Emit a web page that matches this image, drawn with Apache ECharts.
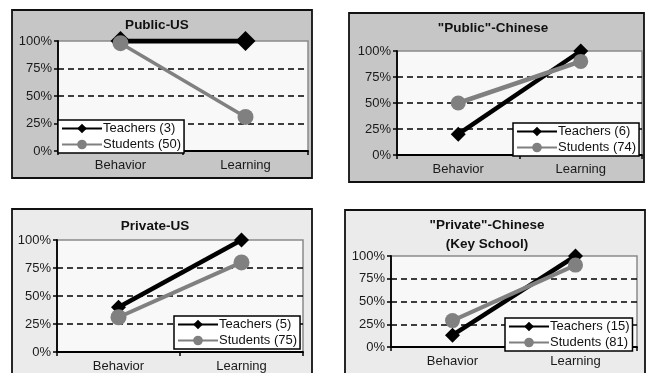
<!DOCTYPE html>
<html>
<head>
<meta charset="utf-8">
<script src="https://cdn.jsdelivr.net/npm/echarts@6/dist/echarts.min.js"></script>
<style>
html,body{margin:0;padding:0;background:#fff;}
#c{width:647px;height:373px;}
</style>
</head>
<body>
<div id="c"></div>
<script>
// ---- data ----
const categories = ['Behavior', 'Learning'];
const yTickValues = [0, 25, 50, 75, 100];
const panelTitles = ['Public-US', '"Public"-Chinese', 'Private-US', '"Private"-Chinese\n(Key School)'];
const teacherNames = ['Teachers (3)', 'Teachers (6)', 'Teachers (5)', 'Teachers (15)'];
const studentNames = ['Students (50)', 'Students (74)', 'Students (75)', 'Students (81)'];
const teachersPublicUS = [100, 100];
const studentsPublicUS = [98, 31];
const teachersPublicCN = [20, 100];
const studentsPublicCN = [50, 90];
const teachersPrivateUS = [40, 100];
const studentsPrivateUS = [31, 80];
const teachersPrivateCN = [13, 100];
const studentsPrivateCN = [29, 90];

const teacherData = [teachersPublicUS, teachersPublicCN, teachersPrivateUS, teachersPrivateCN];
const studentData = [studentsPublicUS, studentsPublicCN, studentsPrivateUS, studentsPrivateCN];

// ---- layout (styles only) ----
const FONT = 'Liberation Sans, Arial, sans-serif';
const panels = [
  {box:[12,10,300,168], fill:'#c6c6c6', grid:{left:58,top:41,width:250,height:110}, title:[157,16], legend:[58,120], tw:5, sw:3.5, dsz:20, csz:16},
  {box:[349,13,295,169], fill:'#c6c6c6', grid:{left:397,top:51,width:245,height:104}, title:[493,19], legend:[513,123], tw:4.5, sw:4.5, dsz:15, csz:15},
  {box:[12,209,300,175], fill:'#ebebeb', grid:{left:57,top:240,width:246,height:112}, title:[155,217], legend:[174,316], tw:4.5, sw:4, dsz:15, csz:16},
  {box:[345,210,300,175], fill:'#ebebeb', grid:{left:391,top:256,width:246,height:91}, title:[487,216], legend:[505,318], tw:4.5, sw:4, dsz:15, csz:15}
];

const option = {
  animation: false,
  backgroundColor: '#ffffff',
  graphic: panels.map(p => ({
    type: 'rect', z: -100, silent: true,
    shape: {x: p.box[0], y: p.box[1], width: p.box[2], height: p.box[3]},
    style: {fill: p.fill, stroke: '#111', lineWidth: 1.8}
  })),
  title: panels.map((p, i) => ({
    text: panelTitles[i],
    left: p.title[0], top: p.title[1], textAlign: 'center', padding: 0,
    textStyle: {fontFamily: FONT, fontSize: 13.5, fontWeight: 'bold', color: '#111', lineHeight: 19}
  })),
  grid: panels.map(p => Object.assign({show: true, backgroundColor: '#f8f8f8', borderColor: '#8a8a8a', borderWidth: 1.5}, p.grid)),
  xAxis: panels.map((p, i) => ({
    type: 'category', gridIndex: i, data: categories, boundaryGap: true,
    axisLine: {lineStyle: {color: '#000', width: 1.8}},
    axisTick: {show: true, inside: false, length: 4, lineStyle: {color: '#000', width: 1.5}},
    axisLabel: {fontFamily: FONT, fontSize: 13, color: '#1a1a1a', margin: 8},
    splitLine: {show: false}
  })),
  yAxis: panels.map((p, i) => ({
    type: 'value', gridIndex: i, min: yTickValues[0], max: yTickValues[yTickValues.length - 1], interval: 25,
    axisLine: {show: true, lineStyle: {color: '#000', width: 1.8}},
    axisTick: {show: true, inside: false, length: 4, lineStyle: {color: '#000', width: 1.5}},
    axisLabel: {fontFamily: FONT, fontSize: 13, color: '#1a1a1a', margin: 6, formatter: '{value}%'},
    splitLine: {show: true, showMinLine: false, showMaxLine: false, lineStyle: {color: '#000', width: 1.7, type: [6, 4]}}
  })),
  legend: panels.map((p, i) => ({
    data: [teacherNames[i], studentNames[i]],
    orient: 'vertical', left: p.legend[0], top: p.legend[1],
    backgroundColor: '#ffffff', borderColor: '#000', borderWidth: 1.5,
    padding: [1, 3, 1, 3], itemGap: 1, itemWidth: 40, itemHeight: 12,
    selectedMode: false,
    textStyle: {fontFamily: FONT, fontSize: 13, color: '#111', padding: [0, 0, 0, -4], lineHeight: 15}
  })),
  series: panels.flatMap((p, i) => [
    {
      name: teacherNames[i], type: 'line', xAxisIndex: i, yAxisIndex: i,
      data: teacherData[i], symbol: 'diamond', symbolSize: p.dsz, z: 3,
      lineStyle: {color: '#000', width: p.tw}, itemStyle: {color: '#000'}
    },
    {
      name: studentNames[i], type: 'line', xAxisIndex: i, yAxisIndex: i,
      data: studentData[i], symbol: 'circle', symbolSize: p.csz, z: 4,
      lineStyle: {color: '#808080', width: p.sw}, itemStyle: {color: '#808080'}
    }
  ])
};

const chart = echarts.init(document.getElementById('c'), null, {renderer: 'canvas'});
chart.setOption(option);
</script>
</body>
</html>
